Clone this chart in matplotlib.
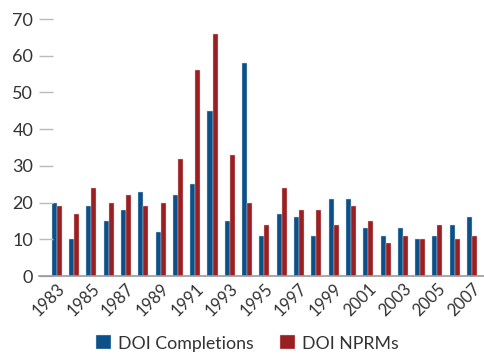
import matplotlib
matplotlib.use('Agg')
import matplotlib.pyplot as plt
import numpy as np

years = list(range(1983, 2008))
completions = [20, 10, 19, 15, 18, 23, 12, 22, 25, 45, 15, 58,
               11, 17, 16, 11, 21, 21, 13, 11, 13, 10, 11, 14, 16]
nprms = [19, 17, 24, 20, 22, 19, 20, 32, 56, 66, 33, 20,
         14, 24, 18, 18, 14, 19, 15, 9, 11, 10, 14, 10, 11]
series_names = ['DOI Completions', 'DOI NPRMs']
colors = ['#0b5188', '#9a1f22']

plt.rcParams['font.family'] = ['Lato', 'DejaVu Sans']

fig = plt.figure(figsize=(4.85, 3.54), dpi=100)
ax = fig.add_axes([0.08, 0.22, 0.92, 0.7263])

x = np.arange(len(years))
w = 0.29
ax.bar(x - w / 2, completions, w, color=colors[0], label=series_names[0],
       edgecolor='#c8d8e8', linewidth=0.3)
ax.bar(x + w / 2, nprms, w, color=colors[1], label=series_names[1],
       edgecolor='#e8c8c8', linewidth=0.3)

ax.set_xlim(-1.04, 24.75)
ax.set_ylim(0, 70)
ax.set_yticks(range(0, 71, 10))
ax.set_xticks(x[::2])
ax.set_xticklabels([str(y) for y in years[::2]], rotation=45, ha='right',
                   rotation_mode='anchor')

for s in ['top', 'right', 'left']:
    ax.spines[s].set_visible(False)
ax.spines['bottom'].set_color('#999999')
ax.spines['bottom'].set_linewidth(1.2)
ax.tick_params(axis='y', direction='in', length=10, color='#bbbbbb', width=1,
               labelsize=13, labelcolor='#333333', pad=4)
ax.tick_params(axis='x', length=0, labelsize=12, labelcolor='#333333', pad=3)

leg = fig.legend(loc='center', bbox_to_anchor=(0.51, 0.03), ncol=2,
                 frameon=False, fontsize=12.8, handlelength=0.85,
                 handleheight=0.85, columnspacing=1.5, handletextpad=0.4,
                 labelcolor='#333333', borderaxespad=0, borderpad=0)

fig.savefig('out.png', dpi=100)
